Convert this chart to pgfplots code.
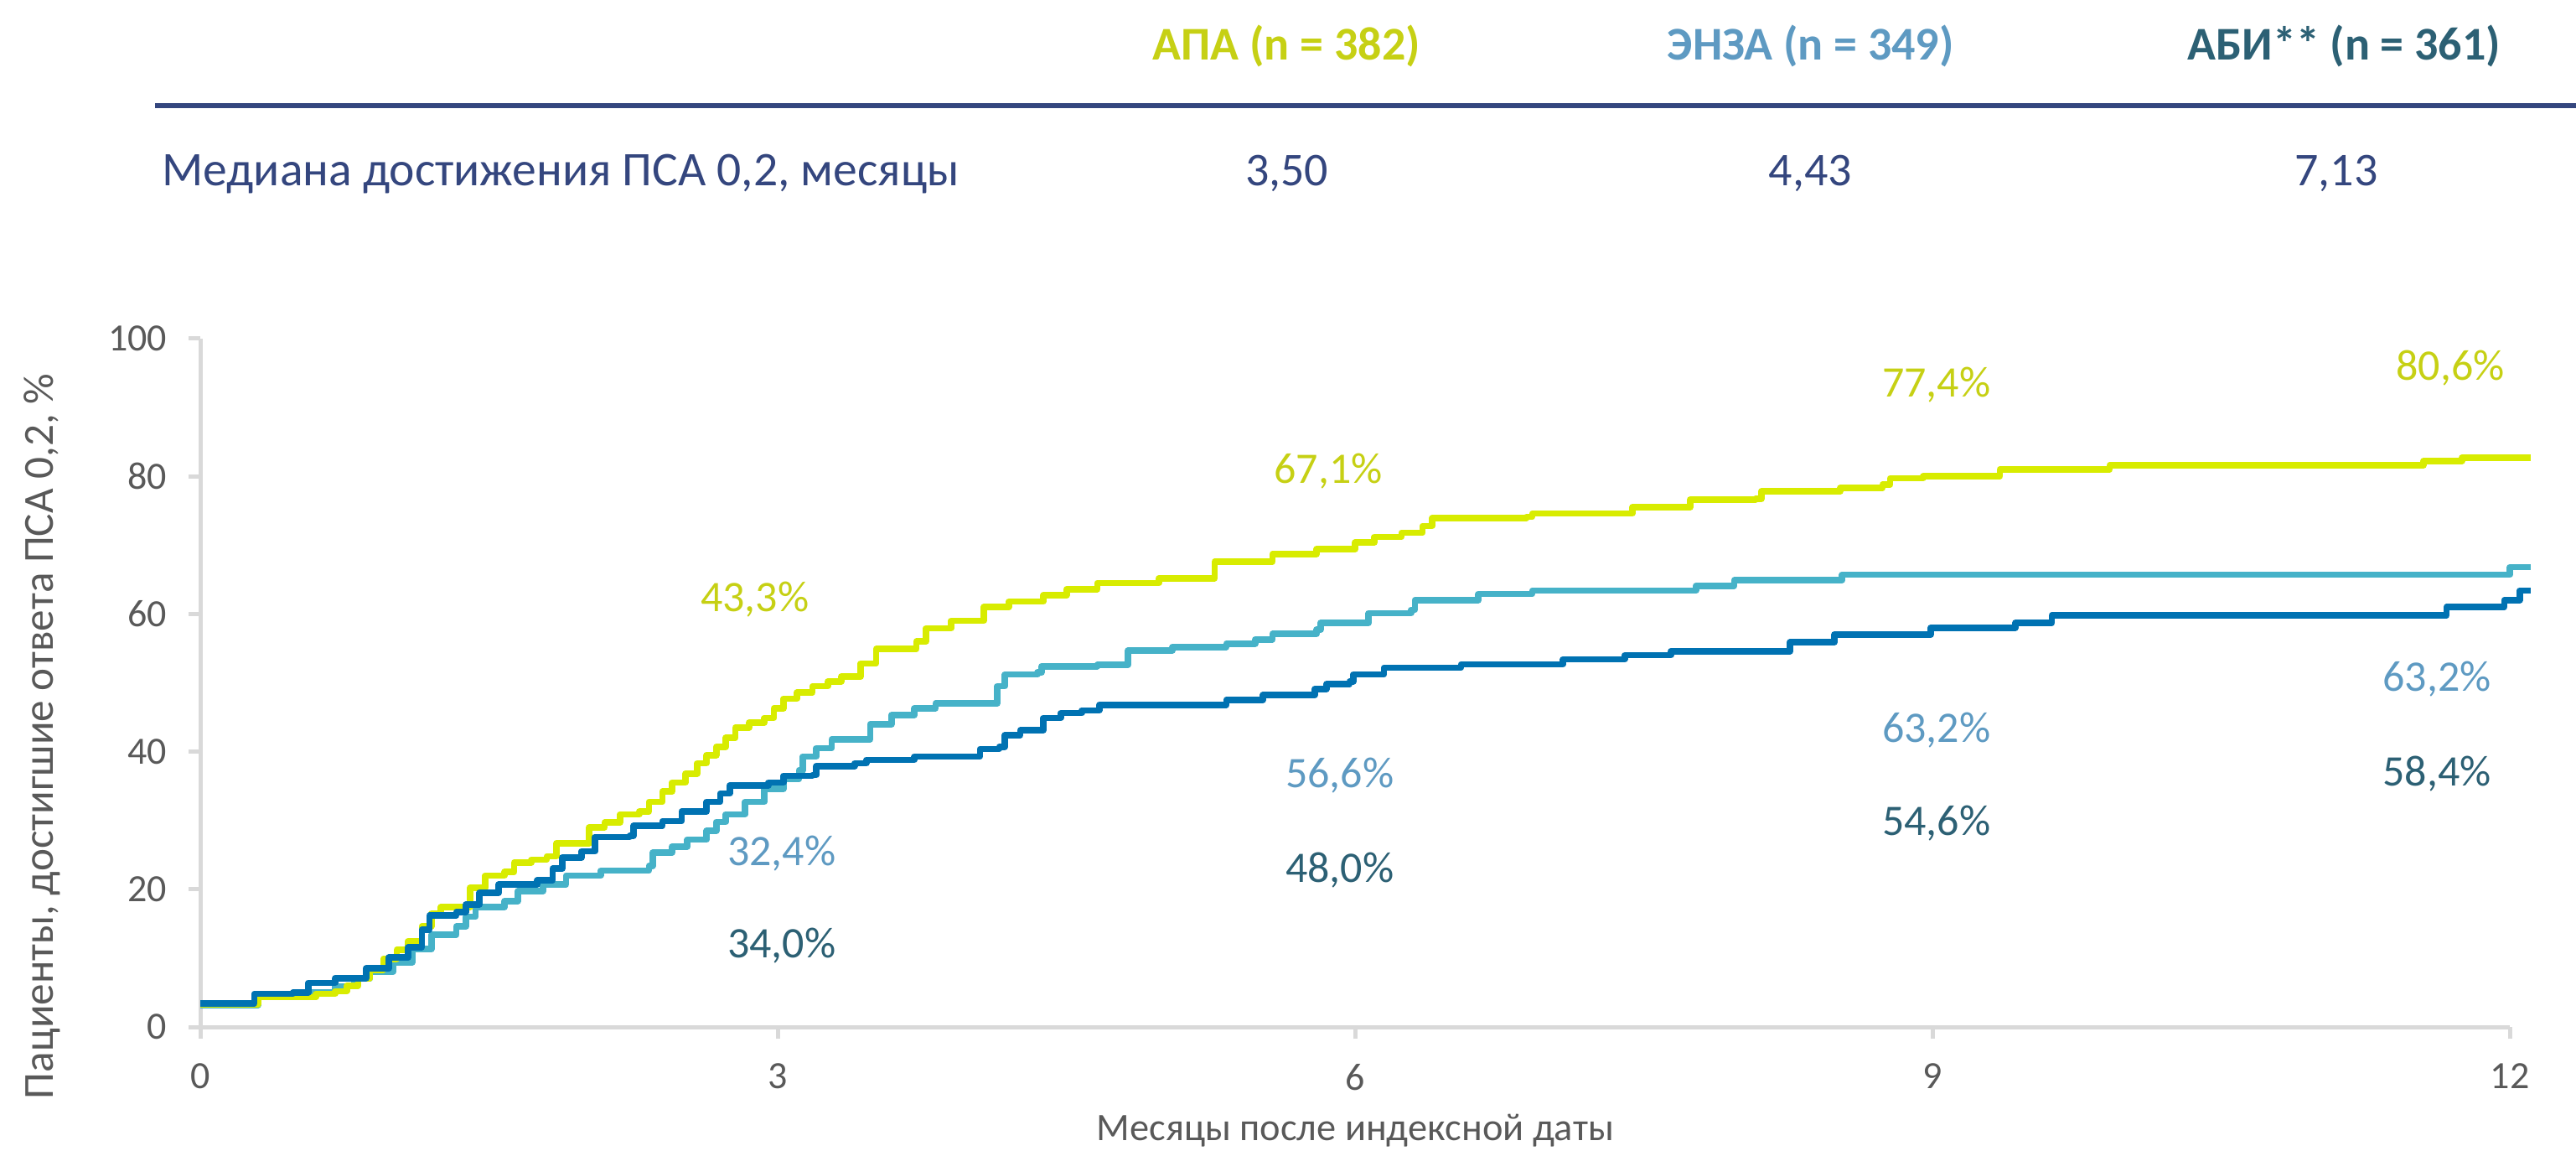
\documentclass[border=0pt]{standalone}
\usepackage{fontspec}
\setmainfont{Carlito}
\usepackage{pgfplots}
\usepackage{pgfplotstable}
\pgfplotsset{compat=1.18}

\definecolor{apaLine}{RGB}{216,236,0}
\definecolor{enzaLine}{RGB}{70,178,200}
\definecolor{abiLine}{RGB}{0,114,178}
\definecolor{apaText}{RGB}{198,208,20}
\definecolor{enzaText}{RGB}{94,154,194}
\definecolor{abiText}{RGB}{44,96,116}
\definecolor{navy}{RGB}{52,70,126}
\definecolor{tickgray}{RGB}{89,89,89}
\definecolor{axisgray}{RGB}{217,217,217}

\pgfplotstableread{
x y
0 3.3
0.2 3.3
0.3 4.3
0.48 4.3
0.6 4.8
0.7 5.2
0.76 6.0
0.82 7.1
0.88 8.3
0.95 9.9
1.02 11.2
1.08 12.5
1.15 14.6
1.2 16.5
1.25 17.4
1.36 17.4
1.40 20.2
1.48 22.0
1.58 22.5
1.63 23.9
1.72 24.3
1.80 24.8
1.85 26.7
1.98 26.7
2.02 29.0
2.10 29.7
2.18 30.9
2.28 31.3
2.33 32.7
2.40 34.2
2.45 35.5
2.52 36.8
2.58 38.3
2.63 39.5
2.68 40.7
2.73 42.0
2.78 43.5
2.85 44.2
2.93 44.9
2.98 46.3
3.03 47.7
3.10 48.6
3.18 49.5
3.26 50.2
3.33 50.9
3.43 52.8
3.51 54.9
3.66 54.9
3.72 56.0
3.77 57.9
3.90 59.0
4.07 61.0
4.20 61.8
4.38 62.7
4.50 63.6
4.66 64.5
4.98 65.2
5.27 67.6
5.57 68.7
5.80 69.4
6.00 70.4
6.10 71.2
6.24 71.8
6.35 72.8
6.40 73.9
6.89 74.1
6.92 74.6
7.44 75.5
7.74 76.6
8.08 76.7
8.11 77.8
8.52 78.3
8.74 78.8
8.78 79.7
8.95 80.0
9.35 81.0
9.92 81.6
11.55 82.2
11.75 82.7
12.11 82.7
}\apa

\pgfplotstableread{
x y
0 3.2
0.2 3.2
0.3 4.3
0.5 5.0
0.7 5.9
0.8 7.0
0.88 8.0
1.00 9.4
1.10 11.3
1.20 13.4
1.33 14.6
1.38 16.0
1.43 17.4
1.58 18.3
1.65 19.7
1.78 20.7
1.90 22.0
2.08 22.7
2.33 23.4
2.35 25.3
2.45 26.2
2.53 27.2
2.63 28.5
2.68 29.8
2.73 30.9
2.83 32.7
2.93 34.6
3.03 36.0
3.11 37.3
3.13 39.3
3.20 40.5
3.28 41.8
3.43 41.8
3.48 44.0
3.59 45.3
3.71 46.3
3.82 47.0
4.09 47.0
4.14 49.5
4.18 51.2
4.35 51.5
4.37 52.4
4.66 52.6
4.82 54.7
5.05 55.2
5.33 55.7
5.48 56.3
5.57 57.1
5.80 57.7
5.82 58.7
6.07 60.1
6.29 60.6
6.31 62.0
6.64 62.9
6.92 63.4
7.77 64.1
7.97 64.9
8.53 65.7
12.0 66.8
12.11 66.8
}\enza

\pgfplotstableread{
x y
0 3.4
0.2 3.4
0.28 4.8
0.48 5.0
0.56 6.4
0.70 7.1
0.86 8.5
0.98 10.1
1.08 11.6
1.15 14.1
1.19 16.2
1.33 16.7
1.38 17.8
1.45 19.5
1.55 20.7
1.75 21.3
1.83 23.0
1.88 24.6
1.98 25.5
2.05 27.6
2.23 27.8
2.25 29.2
2.40 29.9
2.50 31.3
2.63 32.7
2.70 33.9
2.75 35.1
2.95 35.5
3.03 36.5
3.18 36.6
3.20 37.9
3.40 38.3
3.46 38.8
3.71 39.3
4.05 40.4
4.15 40.7
4.18 42.4
4.26 43.1
4.38 44.9
4.47 45.6
4.58 46.0
4.67 46.8
5.33 47.5
5.52 48.2
5.79 49.1
5.85 49.8
5.97 50.2
5.99 51.2
6.15 52.2
6.55 52.7
7.08 53.4
7.40 54.0
7.64 54.6
8.26 55.9
8.49 57.0
8.99 58.0
9.43 58.7
9.62 59.8
11.67 61.0
11.97 62.0
12.05 63.4
12.11 63.4
}\abi

\begin{document}
\begin{tikzpicture}
\begin{axis}[
  scale only axis,
  width=689pt, height=205.25pt,
  xmin=0, xmax=12, ymin=0, ymax=100,
  axis x line=bottom, axis y line=left,
  axis line style={draw=axisgray, line width=1.25pt, -},
  xtick={0,3,6,9,12}, ytick={0,20,40,60,80,100},
  tick style={draw=axisgray, line width=1.25pt},
  tick align=outside, major tick length=3.5pt,
  ticklabel style={font=\fontsize{11.5}{13}\selectfont, text=tickgray},
  xticklabel style={yshift=-4pt},
  yticklabel style={xshift=-3pt},
  /pgf/number format/assume math mode=true,
  clip=false,
]
\addplot[const plot, enzaLine, line width=1.9pt, line join=round] table[x=x,y=y] {\enza};
\addplot[const plot, apaLine, line width=1.9pt, line join=round] table[x=x,y=y] {\apa};
\addplot[const plot, abiLine, line width=1.9pt, line join=round] table[x=x,y=y] {\abi};

\begin{scope}[every node/.style={anchor=base, font=\fontsize{13}{15}\selectfont}]
\node[text=apaText] at (axis cs:2.88,60.4) {43,3\%};
\node[text=enzaText] at (axis cs:3.02,23.5) {32,4\%};
\node[text=abiText] at (axis cs:3.02,10.0) {34,0\%};
\node[text=apaText] at (axis cs:5.86,79.0) {67,1\%};
\node[text=enzaText] at (axis cs:5.92,34.8) {56,6\%};
\node[text=abiText] at (axis cs:5.92,21.0) {48,0\%};
\node[text=apaText] at (axis cs:9.02,91.5) {77,4\%};
\node[text=enzaText] at (axis cs:9.02,41.4) {63,2\%};
\node[text=abiText] at (axis cs:9.02,27.8) {54,6\%};
\node[text=apaText] at (axis cs:11.69,94.0) {80,6\%};
\node[text=enzaText] at (axis cs:11.62,48.8) {63,2\%};
\node[text=abiText] at (axis cs:11.62,35.0) {58,4\%};
\end{scope}
\end{axis}

% axis titles
\node[rotate=90, anchor=base, text=tickgray, font=\fontsize{12.8}{15}\selectfont] at (-44.0pt,86.6pt) {Пациенты, достигшие ответа ПСА 0,2, \%};
\node[anchor=base, text=tickgray, font=\fontsize{11.6}{14}\selectfont] at (344.5pt,-33.75pt) {Месяцы после индексной даты};

% header table
\node[anchor=base, text=apaText, font=\fontsize{14}{16}\selectfont\bfseries] at (324.0pt,288.3pt) {АПА (n = 382)};
\node[anchor=base, text=enzaText, font=\fontsize{14}{16}\selectfont\bfseries] at (480.4pt,288.3pt) {ЭНЗА (n = 349)};
\node[anchor=base, text=abiText, font=\fontsize{14}{16}\selectfont\bfseries] at (639.5pt,288.3pt) {АБИ** (n = 361)};
\draw[navy, line width=1.4pt] (-13.5pt,274.75pt) -- (708.7pt,274.75pt);
\node[anchor=base west, inner sep=0pt, text=navy, font=\fontsize{14.4}{16}\selectfont] at (-11.6pt,250.75pt) {Медиана достижения ПСА 0,2, месяцы};
\node[anchor=base, text=navy, font=\fontsize{14}{16}\selectfont] at (324.1pt,250.75pt) {3,50};
\node[anchor=base, text=navy, font=\fontsize{14}{16}\selectfont] at (480.3pt,250.75pt) {4,43};
\node[anchor=base, text=navy, font=\fontsize{14}{16}\selectfont] at (637.2pt,250.75pt) {7,13};

\pgfresetboundingbox
\useasboundingbox (-59.8pt,-36.75pt) rectangle (708.7pt,306.25pt);
\end{tikzpicture}
\end{document}
